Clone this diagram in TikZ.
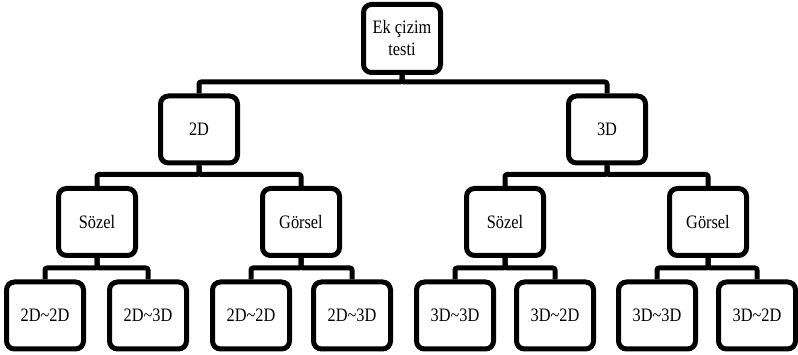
\documentclass[tikz,border=0pt]{standalone}
\usepackage{fontspec}
\newfontfamily\diagfont[FakeStretch=0.86]{Liberation Serif}
\begin{document}
\begin{tikzpicture}[x=1pt,y=-1pt,
  box/.style={draw=black,line width=5pt,rounded corners=8pt,fill=white,
    minimum width=77pt,minimum height=67pt,inner sep=0pt,align=center,
    font=\diagfont\fontsize{19}{22}\selectfont},
  wire/.style={draw=black,line width=5pt,rounded corners=2pt,line join=round}]
\useasboundingbox (0,0) rectangle (798,355);

% root
\node[box,minimum height=68pt] (root) at (402,38.5) {Ek çizim\\testi};

% second level
\node[box] (d2) at (199,129.5) {2D};
\node[box] (d3) at (607,129.5) {3D};

% third level
\node[box] (s2) at (97,222) {Sözel};
\node[box] (g2) at (301,222) {Görsel};
\node[box] (s3) at (505,222) {Sözel};
\node[box] (g3) at (708,222) {Görsel};

% leaves
\node[box] (l1) at (45,315.5) {2D\char`~2D};
\node[box] (l2) at (148,315.5) {2D\char`~3D};
\node[box] (l3) at (251,315.5) {2D\char`~2D};
\node[box] (l4) at (352,315.5) {2D\char`~3D};
\node[box] (l5) at (455,315.5) {3D\char`~3D};
\node[box] (l6) at (555,315.5) {3D\char`~2D};
\node[box] (l7) at (657,315.5) {3D\char`~3D};
\node[box] (l8) at (757,315.5) {3D\char`~2D};

% elbow connectors: down from the parent, along a bus, down to each child
\foreach \p/\a/\b/\d in {root/d2/d3/7, d2/s2/g2/9, d3/s3/g3/9,
    s2/l1/l2/10, g2/l3/l4/10, s3/l5/l6/10, g3/l7/l8/10} {
  \draw[wire] (\p.south) -- ++(0,\d) -| (\a.north);
  \draw[wire] (\p.south) -- ++(0,\d) -| (\b.north);
}
\end{tikzpicture}
\end{document}
